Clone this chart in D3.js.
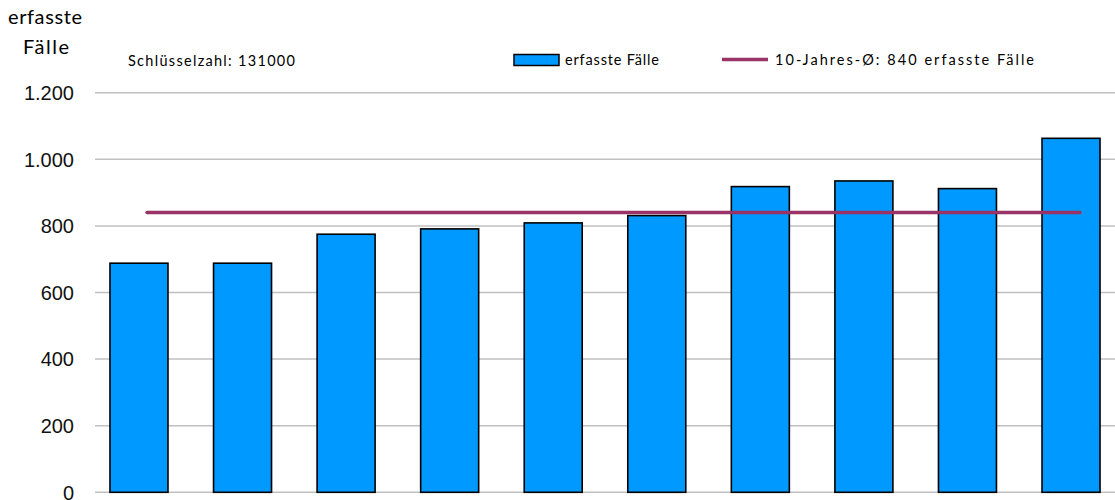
<!DOCTYPE html>
<html><head><meta charset="utf-8">
<script src="https://cdn.jsdelivr.net/npm/d3@7/dist/d3.min.js"></script>
<style>body{margin:0;background:#fff}svg{display:block}</style>
</head><body>
<svg id="c" width="1115" height="500"></svg>
<script>
const years = ["2014","2015","2016","2017","2018","2019","2020","2021","2022","2023"];
const cases = [688, 688, 775, 791, 809, 831, 918, 935, 912, 1063];
const average = 840;
const yTicks = [0, 200, 400, 600, 800, 1000, 1200];
const yTickLabels = ["0","200","400","600","800","1.000","1.200"];
const keyText = "Schlüsselzahl: 131000";
const legendBar = "erfasste Fälle";
const legendLine = "10-Jahres-Ø: 840 erfasste Fälle";

const svg = d3.select("#c");
const y = d3.scaleLinear().domain([0, 1200]).range([492.3, 92.7]);
const x = d3.scaleBand().domain(years).range([87.2, 1122.8]).paddingInner(0.44).paddingOuter(0.22);
const xl = d3.scalePoint().domain(years).range([147, 1080]);

// gridlines
svg.append("g").selectAll("line").data(yTicks).join("line")
  .attr("x1", 95).attr("x2", 1115)
  .attr("y1", d => y(d)).attr("y2", d => y(d))
  .attr("stroke", "#c0c0c0").attr("stroke-width", 1.5);

// y tick labels
svg.append("g").selectAll("text").data(yTicks).join("text")
  .attr("x", 74).attr("y", d => y(d)).attr("dy", "0.36em")
  .attr("text-anchor", "end")
  .attr("font-family", "Liberation Sans, Arial, sans-serif").attr("font-size", 20)
  .attr("fill", "#111").text((d, i) => yTickLabels[i]);

// bars
svg.append("g").selectAll("rect").data(cases).join("rect")
  .attr("x", (d, i) => x(years[i])).attr("width", x.bandwidth())
  .attr("y", d => y(d)).attr("height", d => y(0) - y(d))
  .attr("fill", "#0099ff").attr("stroke", "#000").attr("stroke-width", 1.6);

// average line
svg.append("path")
  .attr("d", d3.line().x(d => xl(d)).y(() => y(average))(years))
  .attr("stroke", "#993366").attr("stroke-width", 3.5).attr("fill", "none")
  .attr("stroke-linecap", "round");

// axis title
const tf = "Lato, Open Sans, sans-serif";
svg.append("text").attr("x", 8).attr("y", 24)
  .attr("font-family", tf).attr("font-size", 20)
  .attr("textLength", 74).attr("lengthAdjust", "spacing").text("erfasste");
svg.append("text").attr("x", 23).attr("y", 54)
  .attr("font-family", tf).attr("font-size", 20)
  .attr("textLength", 46).attr("lengthAdjust", "spacing").text("Fälle");

svg.append("text").attr("x", 128).attr("y", 66)
  .attr("font-family", tf).attr("font-size", 14.5)
  .attr("textLength", 167).attr("lengthAdjust", "spacing").text(keyText);

// legend
svg.append("rect").attr("x", 514).attr("y", 54.5).attr("width", 45).attr("height", 11)
  .attr("fill", "#0099ff").attr("stroke", "#000").attr("stroke-width", 1.5);
svg.append("text").attr("x", 565).attr("y", 65)
  .attr("font-family", tf).attr("font-size", 14.5)
  .attr("textLength", 94).attr("lengthAdjust", "spacing").text(legendBar);
svg.append("line").attr("x1", 722).attr("x2", 768).attr("y1", 59.5).attr("y2", 59.5)
  .attr("stroke", "#993366").attr("stroke-width", 3.5);
svg.append("text").attr("x", 775).attr("y", 65)
  .attr("font-family", tf).attr("font-size", 14.5)
  .attr("textLength", 259).attr("lengthAdjust", "spacing").text(legendLine);
</script>
</body></html>
